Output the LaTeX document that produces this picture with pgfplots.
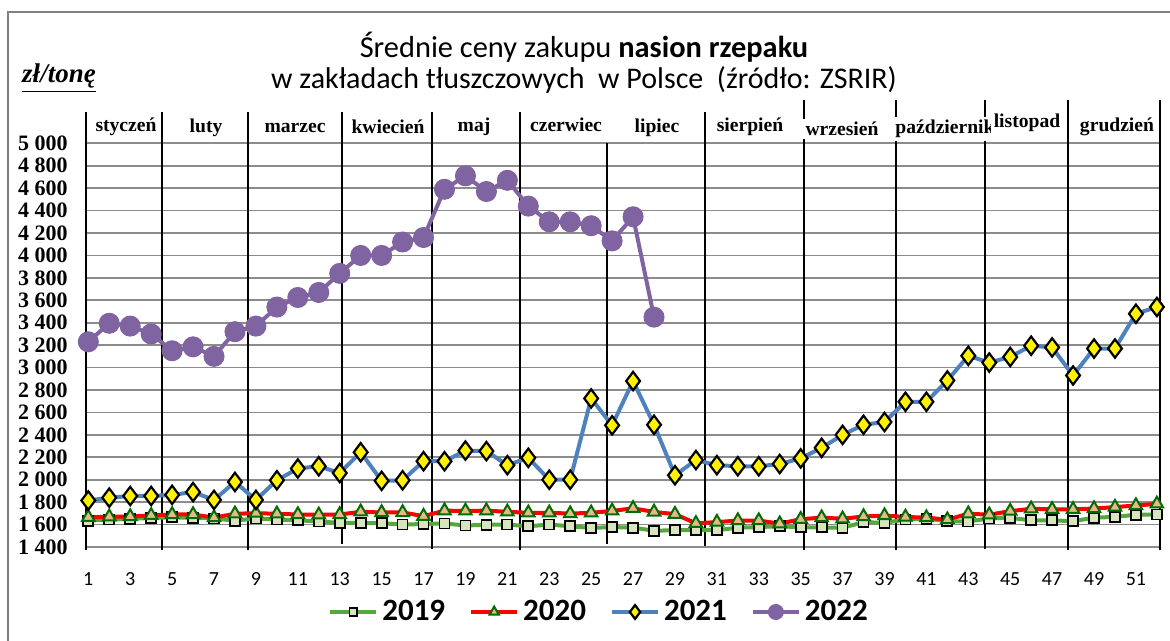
\documentclass[border=0pt]{standalone}
\usepackage{pgfplots}
\pgfplotsset{compat=1.18}
\usepackage{fontspec}
\setmainfont{Carlito}
\newfontfamily\serifb{Liberation Serif}
\definecolor{c19}{RGB}{84,168,60}
\definecolor{c19f}{RGB}{215,228,189}
\definecolor{c20}{RGB}{255,0,0}
\definecolor{c20e}{RGB}{0,110,0}
\definecolor{c20f}{RGB}{230,184,140}
\definecolor{c21}{RGB}{79,129,189}
\definecolor{c22}{RGB}{128,100,162}
\definecolor{gridc}{RGB}{140,140,140}
\begin{document}
\begin{tikzpicture}
\begin{scope}[x=0.5pt,y=-0.5pt]
\path[use as bounding box] (0,0) rectangle (1170,641);
\draw[color=gray, line width=1pt] (8,641) -- (8,12) -- (1170,12);
\end{scope}
\begin{axis}[
  at={(43pt,-273.5pt)}, anchor=south west,
  scale only axis, width=537pt, height=201.85pt,
  xmin=0.89, xmax=52.15, ymin=1400, ymax=5000,
  clip=false,
  axis line style={draw=none},
  ymajorgrids, major grid style={gridc, line width=0.9pt},
  major tick length=0pt,
  ytick={1400,1600,...,5000},
  yticklabels={1 400,1 600,1 800,2 000,2 200,2 400,2 600,2 800,3 000,3 200,3 400,3 600,3 800,4 000,4 200,4 400,4 600,4 800,5 000},
  yticklabel style={anchor=east, inner sep=0pt, xshift=-9pt, font=\serifb\bfseries\fontsize{11}{12}\selectfont},
  xtick={1,3,...,51},
  xticklabel style={anchor=center, inner sep=0pt, yshift=-16pt, font=\fontsize{10}{11}\selectfont},
  /pgf/number format/assume math mode=true,
  legend style={at={(0.4786,-0.161)}, anchor=center, draw=none, fill=none,
    font=\bfseries\fontsize{15.5}{18}\selectfont,
    /tikz/every even column/.append style={column sep=10pt}},
  legend columns=4,
  legend image code/.code={\draw[mark repeat=2,mark phase=2,every mark/.append style={scale=0.75}] plot coordinates {(0pt,0pt) (11.5pt,0pt) (23pt,0pt)};},
]
% month separators
\draw[black, line width=0.7pt] (axis cs:0.89,5279) -- (axis cs:0.89,1369);
\draw[black, line width=0.7pt] (axis cs:4.52,5279) -- (axis cs:4.52,1369);
\draw[black, line width=0.7pt] (axis cs:8.62,5279) -- (axis cs:8.62,1369);
\draw[black, line width=0.7pt] (axis cs:13.10,5279) -- (axis cs:13.10,1430);
\draw[black, line width=0.7pt] (axis cs:17.40,5279) -- (axis cs:17.40,1380);
\draw[black, line width=0.7pt] (axis cs:21.60,5279) -- (axis cs:21.60,1369);
\draw[black, line width=0.7pt] (axis cs:25.75,5000) -- (axis cs:25.75,1430);
\draw[black, line width=0.7pt] (axis cs:30.43,5279) -- (axis cs:30.43,1410);
\draw[black, line width=0.7pt] (axis cs:35.16,5387) -- (axis cs:35.16,1369);
\draw[black, line width=0.7pt] (axis cs:39.55,5387) -- (axis cs:39.55,1369);
\draw[black, line width=0.7pt] (axis cs:43.80,5387) -- (axis cs:43.80,1380);
\draw[black, line width=0.7pt] (axis cs:47.76,5387) -- (axis cs:47.76,1369);
\draw[black, line width=0.7pt] (axis cs:52.15,5387) -- (axis cs:52.15,1369);

\addplot[c19, line width=2pt, mark=square*, mark size=2.5pt,
  mark options={solid, fill=c19f, draw=black, line width=0.9pt}] coordinates {
(1,1635)(2,1645)(3,1650)(4,1660)(5,1665)(6,1660)(7,1655)(8,1635)(9,1655)(10,1645)
(11,1638)(12,1628)(13,1615)(14,1615)(15,1612)(16,1600)(17,1605)(18,1610)(19,1592)(20,1598)
(21,1600)(22,1585)(23,1600)(24,1585)(25,1570)(26,1578)(27,1573)(28,1545)(29,1550)(30,1550)
(31,1550)(32,1572)(33,1578)(34,1585)(35,1575)(36,1575)(37,1571)(38,1622)(39,1615)(40,1645)
(41,1653)(42,1630)(43,1628)(44,1655)(45,1660)(46,1638)(47,1638)(48,1630)(49,1662)(50,1668)
(51,1688)(52,1690)};
\addlegendentry{2019}
\addplot[c20, line width=2pt, mark=triangle*, mark size=3.6pt,
  mark options={solid, fill=c20f, draw=c20e, line width=1pt}] coordinates {
(1,1665)(2,1670)(3,1672)(4,1682)(5,1690)(6,1690)(7,1662)(8,1696)(9,1702)(10,1696)
(11,1690)(12,1687)(13,1690)(14,1714)(15,1708)(16,1708)(17,1675)(18,1724)(19,1722)(20,1724)
(21,1714)(22,1705)(23,1705)(24,1698)(25,1705)(26,1722)(27,1745)(28,1713)(29,1693)(30,1611)
(31,1622)(32,1636)(33,1636)(34,1608)(35,1648)(36,1662)(37,1652)(38,1672)(39,1680)(40,1668)
(41,1662)(42,1644)(43,1697)(44,1688)(45,1720)(46,1741)(47,1736)(48,1736)(49,1743)(50,1756)
(51,1770)(52,1785)};
\addlegendentry{2020}
\addplot[c21, line width=2pt, mark=diamond*, mark size=4.6pt,
  mark options={solid, fill=yellow, draw=black, line width=1.1pt}] coordinates {
(1,1815)(2,1840)(3,1855)(4,1855)(5,1865)(6,1890)(7,1820)(8,1980)(9,1820)(10,1995)
(11,2100)(12,2120)(13,2060)(14,2245)(15,1990)(16,1995)(17,2165)(18,2165)(19,2260)(20,2255)
(21,2130)(22,2195)(23,2000)(24,2000)(25,2725)(26,2485)(27,2880)(28,2490)(29,2040)(30,2175)
(31,2130)(32,2120)(33,2120)(34,2140)(35,2190)(36,2285)(37,2400)(38,2490)(39,2515)(40,2695)
(41,2695)(42,2885)(43,3105)(44,3045)(45,3095)(46,3195)(47,3180)(48,2930)(49,3170)(50,3170)
(51,3480)(52,3540)};
\addlegendentry{2021}
\addplot[c22, line width=2pt, mark=*, mark size=5pt,
  mark options={solid, fill=c22, draw=c22, line width=0.5pt}] coordinates {
(1,3230)(2,3395)(3,3370)(4,3300)(5,3150)(6,3185)(7,3100)(8,3320)(9,3370)(10,3540)
(11,3625)(12,3670)(13,3840)(14,4000)(15,4000)(16,4120)(17,4160)(18,4590)(19,4710)(20,4570)
(21,4670)(22,4440)(23,4300)(24,4300)(25,4265)(26,4130)(27,4345)(28,3450)};
\addlegendentry{2022}
\end{axis}
\begin{scope}[x=0.5pt,y=-0.5pt]
\node[font=\fontsize{15.2}{18}\selectfont] at (584,47) {Średnie ceny zakupu \textbf{nasion rzepaku}};
\node[font=\fontsize{15}{18}\selectfont] at (584,80) {w zakładach tłuszczowych\ \ w Polsce\ \ (źródło: ZSRIR)};
\node[font=\serifb\bfseries\itshape\fontsize{13.5}{15}\selectfont, inner sep=0pt] at (59,78) {\underline{zł/tonę}};
\begin{scope}[every node/.style={fill=white, inner sep=1.5pt, font=\serifb\bfseries\fontsize{9.8}{11}\selectfont}]
\node at (126,127) {styczeń};
\node at (206,128) {luty};
\node at (295,128) {marzec};
\node at (388,127) {kwiecień};
\node at (474,127) {maj};
\node at (566,125) {czerwiec};
\node at (657,128) {lipiec};
\node at (750,127) {sierpień};
\node at (842,129) {wrzesień};
\node at (945,129) {październik};
\node at (1027,123) {listopad};
\node at (1117,127) {grudzień};
\end{scope}
\end{scope}
\end{tikzpicture}
\end{document}
